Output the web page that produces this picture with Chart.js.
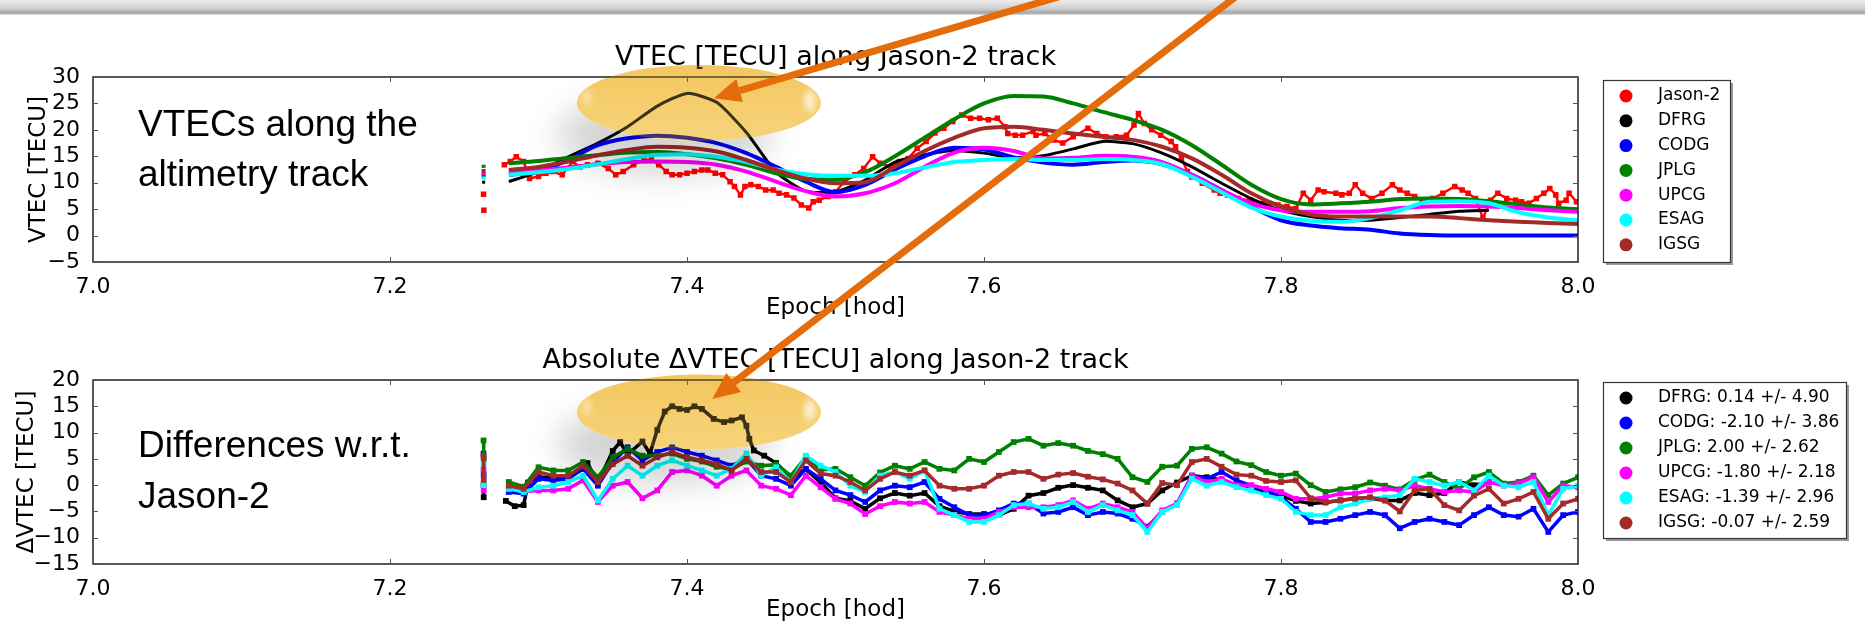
<!DOCTYPE html>
<html lang="en">
<head>
<meta charset="UTF-8">
<title>VTEC along Jason-2 track</title>
<style>
  html, body { margin: 0; padding: 0; background: #fff; }
  body { width: 1865px; height: 635px; position: relative; overflow: hidden; }
  canvas { position: absolute; left: 0; }
  #topChart { top: 0; }
  #bottomChart { top: 322px; }
  #glow { top: 0; pointer-events: none; z-index: 4; mix-blend-mode: multiply; }
  #overlay { top: 0; pointer-events: none; z-index: 5; }
  .note { position: absolute; left: 138px; z-index: 3; white-space: nowrap;
          font-family: 'Liberation Sans', Arial, sans-serif; font-size: 37px; color: #000; }
</style>
</head>
<body>
<canvas id="topChart" width="1865" height="322"></canvas>
<canvas id="bottomChart" width="1865" height="313"></canvas>
<div class="note" style="top:99px; line-height:50px">VTECs along the<br>altimetry track</div>
<div class="note" style="top:419px; line-height:51px">Differences w.r.t.<br>Jason-2</div>
<canvas id="glow" width="1865" height="635"></canvas>
<canvas id="overlay" width="1865" height="635"></canvas>

<script src="https://cdn.jsdelivr.net/npm/chart.js"></script>
<script>
// ---- data ----
const centres = ['DFRG', 'CODG', 'JPLG', 'UPCG', 'ESAG', 'IGSG'];
const colours = ['#000000', '#0000ff', '#008000', '#ff00ff', '#00ffff', '#a52a2a'];
const diffMean = [0.14, -2.10, 2.00, -1.80, -1.39, -0.07];
const diffStd = [4.90, 3.86, 2.62, 2.18, 2.96, 2.59];

const xTicks = [7.0, 7.2, 7.4, 7.6, 7.8, 8.0];
const topTicks = [-5, 0, 5, 10, 15, 20, 25, 30];
const bottomTicks = [-15, -10, -5, 0, 5, 10, 15, 20];

// Jason-2 altimeter VTEC (red dots)
const jasonEpochs = [7.263, 7.2631, 7.2632, 7.27, 7.277, 7.281, 7.285, 7.290, 7.294, 7.300, 7.305, 7.309, 7.316, 7.323,
  7.328, 7.333, 7.340, 7.347, 7.352, 7.357, 7.364, 7.371, 7.376, 7.381, 7.386, 7.390, 7.395, 7.400, 7.405, 7.410,
  7.414, 7.419, 7.424, 7.429, 7.432, 7.436, 7.439, 7.443, 7.448, 7.453, 7.458, 7.462, 7.467, 7.472, 7.477, 7.482,
  7.485, 7.489, 7.495, 7.500, 7.506, 7.513, 7.519, 7.525, 7.530, 7.537, 7.543, 7.549, 7.555, 7.561, 7.567, 7.573,
  7.579, 7.585, 7.591, 7.597, 7.603, 7.609, 7.614, 7.616, 7.621, 7.626, 7.633, 7.635, 7.641, 7.647, 7.653, 7.660,
  7.670, 7.676, 7.682, 7.689, 7.696, 7.701, 7.704, 7.708, 7.713, 7.719, 7.726, 7.729, 7.733, 7.737, 7.740, 7.747,
  7.755, 7.759, 7.764, 7.771, 7.779, 7.788, 7.798, 7.804, 7.810, 7.815, 7.820, 7.825, 7.829, 7.837, 7.841, 7.846,
  7.850, 7.855, 7.861, 7.868, 7.875, 7.880, 7.885, 7.890, 7.895, 7.902, 7.909, 7.917, 7.922, 7.926, 7.931, 7.936,
  7.941, 7.946, 7.952, 7.958, 7.962, 7.967, 7.972, 7.977, 7.981, 7.985, 7.987, 7.992, 7.994, 7.999];
const jasonTec = [7.8, null, 4.8, null, 13.4, 14.0, 14.9, 14.0, 10.8, 11.2, 11.8, 12.1, 11.5, 14.0,
  13.0, 13.4, 13.7, 12.7, 11.5, 12.1, 13.4, 14.3, 14.3, 13.4, 12.1, 11.5, 11.5, 11.8, 12.1, 12.4,
  12.4, 11.8, 11.5, 10.2, 9.3, 7.7, 9.3, 9.6, 9.3, 8.6, 8.6, 8.0, 7.7, 7.1, 5.8, 5.2,
  6.4, 6.7, 7.4, 8.3, 10.2, 11.5, 12.7, 14.9, 13.7, 13.0, 14.0, 14.6, 16.5, 17.8, 19.4, 20.3,
  21.6, 22.8, 22.2, 22.2, 21.9, 22.2, 20.6, 19.3, 19.0, 19.0, 19.7, 19.0, 19.3, 18.1, 17.5, 18.7,
  20.3, 19.3, 18.7, 18.7, 19.0, 20.9, 23.1, 21.2, 20.0, 19.0, 17.8, 16.8, 14.6, 12.1, 11.1, 9.9,
  8.6, 8.0, 7.7, 7.0, 6.7, 6.1, 5.8, 5.5, 5.1, 8.0, 6.7, 8.6, 8.3, 8.0, 7.7, 8.0,
  9.6, 8.0, 7.0, 8.0, 9.6, 8.6, 8.0, 7.4, 6.7, 7.0, 8.0, 9.3, 8.6, 8.0, 7.0, 3.3,
  6.7, 8.0, 7.0, 6.7, 6.4, 6.1, 7.0, 8.0, 8.9, 7.7, 6.1, 6.7, 8.0, 6.4];

// GIM VTEC interpolated to the track (smooth lines)
const modelEpochs = [7.263, 7.2631, 7.27, 7.28, 7.30, 7.32, 7.34, 7.36, 7.38, 7.40, 7.42, 7.44, 7.46, 7.48,
  7.50, 7.52, 7.54, 7.56, 7.58, 7.60, 7.62, 7.64, 7.66, 7.68, 7.70, 7.72, 7.74, 7.76, 7.78, 7.80,
  7.82, 7.84, 7.86, 7.88, 7.90, 7.92, 7.94, 7.96, 7.98, 8.00];
const dfrgTec = [10.4, 9.8, null, 10.2, 12.1, 14.9, 17.5, 20.6, 24.5, 26.9, 25.2, 19.5, 12.0, 8.4,
  8.3, 10.5, 13.9, 15.3, 16.1, 15.6, 14.7, 15.1, 16.4, 17.8, 17.4, 15.6, 13.0, 9.9, 7.0, 4.8,
  3.6, 2.9, 2.9, 3.4, 4.0, 4.6, 4.8, null, null, null];
const codgTec = [11.7, 11.0, null, 11.5, 12.1, 14.3, 17.1, 18.4, 18.9, 18.5, 17.5, 15.6, 13.0, 10.2,
  8.2, 9.6, 12.5, 15.0, 16.6, 16.3, 14.8, 13.8, 13.4, 13.9, 14.2, 13.5, 11.5, 8.6, 5.5, 2.9,
  1.9, 1.4, 1.1, 0.4, 0.1, 0.0, 0.0, 0.0, 0.0, 0.0];
const jplgTec = [13.4, 12.8, null, 13.7, 14.1, 14.7, 15.2, 15.7, 15.8, 15.4, 14.6, 13.4, 11.8, 10.7,
  10.6, 12.0, 15.0, 18.5, 22.0, 25.0, 26.4, 26.3, 25.0, 23.4, 21.9, 20.0, 17.1, 13.4, 9.6, 6.9,
  5.9, 6.1, 6.4, 6.9, 7.0, 6.9, 6.5, 5.9, 5.3, 5.0];
const upcgTec = [12.0, 11.4, null, 12.1, 12.4, 12.9, 13.5, 13.9, 14.0, 13.9, 13.4, 12.1, 10.2, 8.4,
  7.4, 8.0, 9.9, 13.0, 15.7, 16.6, 16.0, 14.6, 14.7, 15.1, 14.9, 13.9, 11.5, 8.6, 6.1, 4.8,
  4.5, 4.5, 4.6, 5.2, 5.5, 5.6, 5.5, 5.2, 4.8, 4.5];
const esagTec = [11.2, 10.6, null, 11.5, 12.0, 12.6, 13.5, 14.5, 15.3, 15.4, 14.9, 13.9, 12.5, 11.6,
  11.3, 11.3, 11.8, 12.9, 13.9, 14.3, 14.5, 14.3, 14.3, 14.5, 14.3, 13.5, 11.1, 8.2, 5.3, 3.6,
  2.8, 2.6, 3.3, 4.8, 6.4, 6.5, 6.1, 4.4, 3.4, 2.9];
const igsgTec = [12.6, 11.8, null, 12.4, 13.0, 14.0, 15.2, 16.2, 16.8, 16.6, 15.9, 14.3, 12.4, 10.8,
  9.9, 10.1, 13.0, 16.0, 18.5, 20.3, 20.6, 20.0, 19.3, 18.7, 18.1, 16.8, 14.6, 11.5, 8.0, 5.5,
  4.0, 3.6, 3.6, 3.6, 3.6, 3.3, 2.9, 2.6, 2.4, 2.2];

// differences model - Jason-2
const diffEpochs = [7.263, 7.2631, 7.27,
  7.28, 7.29, 7.30, 7.31, 7.32, 7.33, 7.34, 7.35, 7.36, 7.37, 7.38, 7.39, 7.40, 7.41, 7.42, 7.43,
  7.44, 7.45, 7.46, 7.47, 7.48, 7.49, 7.50, 7.51, 7.52, 7.53, 7.54, 7.55, 7.56, 7.57, 7.58, 7.59,
  7.60, 7.61, 7.62, 7.63, 7.64, 7.65, 7.66, 7.67, 7.68, 7.69, 7.70, 7.71, 7.72, 7.73, 7.74, 7.75,
  7.76, 7.77, 7.78, 7.79, 7.80, 7.81, 7.82, 7.83, 7.84, 7.85, 7.86, 7.87, 7.88, 7.89, 7.90, 7.91,
  7.92, 7.93, 7.94, 7.95, 7.96, 7.97, 7.98, 7.99, 8.00];
const dfrgDiffEpochs = [7.263, 7.2631, 7.27,
  7.278, 7.284, 7.290, 7.293, 7.300, 7.310, 7.320, 7.333, 7.340, 7.350, 7.355, 7.360, 7.370, 7.375,
  7.380, 7.385, 7.390, 7.395, 7.400, 7.405, 7.410, 7.418, 7.425, 7.430, 7.437, 7.440, 7.442, 7.445,
  7.452, 7.460, 7.470, 7.480, 7.490, 7.500, 7.51, 7.52, 7.53, 7.54, 7.55, 7.56, 7.57, 7.58, 7.59,
  7.60, 7.61, 7.62, 7.63, 7.64, 7.65, 7.66, 7.67, 7.68, 7.69, 7.70, 7.71, 7.72, 7.73, 7.74, 7.75,
  7.76, 7.77, 7.78, 7.79, 7.80, 7.81, 7.82, 7.83, 7.84, 7.85, 7.86, 7.87, 7.88, 7.89, 7.90, 7.91,
  7.92, 7.93, 7.94];
const dfrgDiff = [0.0, -2.3, null,
  -3.0, -4.0, -3.8, 0.5, 1.5, 1.5, 1.5, 4.2, 0.5, 6.5, 8.2, 5.8, 8.3, 6.0,
  10.5, 14.0, 15.0, 14.5, 14.3, 15.0, 14.5, 12.6, 12.0, 12.3, 12.9, 11.3, 8.8, 6.6,
  5.6, 4.2, 1.5, 3.0, 0.5, -2.5, -3.0, -4.5, -2.5, -1.5, -2.0, -1.5, -4.0, -5.0, -5.5,
  -5.5, -5.7, -4.5, -2.0, -1.5, -0.5, 0.0, -0.5, -1.0, -2.9, -4.2, -3.5, -1.0, 0.5, 1.8, 1.5,
  1.0, 0.0, -0.7, -1.5, -2.0, -3.0, -3.5, -3.3, -2.9, -2.5, -2.5, -2.9, -2.9, -1.5, -1.9, -1.5,
  0.6, 0.0, 0.5];
const codgDiff = [6.0, 2.0, null,
  -1.3, -1.6, 1.2, 0.9, 1.2, 3.1, -0.1, 4.4, 7.2, 4.7, 6.3, 7.2, 6.3, 5.6, 4.7, 3.7,
  5.0, 1.8, 1.2, -0.1, 3.1, 1.2, -1.0, -1.9, -3.2, -1.0, -0.1, -0.4, 0.6, -2.6, -4.2, -5.7,
  -5.7, -4.8, -3.5, -3.5, -5.4, -5.1, -4.2, -5.7, -5.1, -5.4, -6.4, -7.9, -5.1, -3.5, 1.8, 1.2,
  2.5, 0.9, -0.1, -1.0, -2.3, -4.5, -7.0, -7.0, -6.4, -5.7, -5.1, -5.7, -8.2, -7.0, -6.4, -7.0,
  -7.6, -5.7, -4.2, -5.7, -6.0, -4.5, -8.9, -5.7, -5.1];
const jplgDiff = [8.5, 5.0, null,
  0.6, -0.3, 3.4, 2.8, 2.8, 4.4, 1.5, 5.3, 6.9, 5.6, 5.6, 6.0, 5.0, 4.5, 3.5, 3.0,
  4.5, 3.7, 3.9, 1.8, 5.3, 2.9, 3.1, 1.5, -0.1, 2.4, 3.7, 3.1, 4.4, 3.1, 2.8, 5.0,
  4.4, 6.3, 8.2, 8.8, 7.5, 8.0, 7.5, 6.5, 5.9, 5.0, 1.5, 0.6, 3.5, 3.7, 6.9, 7.2,
  6.0, 4.5, 3.8, 2.5, 1.8, 2.2, 0.0, -1.3, -0.8, -0.4, 0.5, -0.1, -0.8, 1.0, 2.0, 0.6,
  -0.7, 1.5, 2.5, 0.3, 0.6, 1.8, -1.9, 0.3, 1.5];
const upcgDiff = [3.0, -1.0, null,
  -0.7, -1.2, -1.0, -1.0, -0.7, 0.9, -3.2, -0.1, 0.6, -2.5, -1.0, 2.5, 2.8, 1.8, -0.1, 1.8,
  2.8, -0.1, -0.7, -1.9, 1.8, -0.4, -2.6, -3.5, -5.5, -4.0, -3.2, -3.5, -3.2, -5.1, -5.7, -6.4,
  -6.4, -5.1, -4.2, -4.2, -4.2, -3.8, -2.9, -4.5, -3.5, -4.2, -5.1, -8.2, -4.8, -3.5, 1.8, 0.6,
  1.2, 0.0, 0.0, -0.7, -1.3, -2.6, -2.6, -2.3, -1.6, -1.6, -1.0, -0.7, -1.0, -0.1, -0.7, -1.3,
  -1.0, -1.3, 0.6, -0.1, 0.3, 1.5, -3.2, -0.1, -0.4];
const esagDiff = [4.0, 0.0, null,
  -0.7, -1.3, -0.4, -0.1, 0.6, 1.8, -2.9, 1.2, 3.7, 1.8, 3.7, 4.7, 3.7, 2.8, 1.8, 3.1,
  6.0, 1.8, 3.4, 0.6, 5.6, 3.7, 2.5, -0.1, -1.3, 1.8, 2.5, 1.2, 2.8, -4.5, -5.7, -7.0,
  -7.0, -5.7, -3.8, -3.5, -4.5, -4.2, -3.2, -5.1, -3.8, -4.8, -5.7, -8.9, -5.1, -3.8, 1.2, -0.1,
  0.6, -0.4, -1.0, -1.9, -2.6, -5.1, -5.7, -5.7, -4.2, -3.5, -2.6, -2.3, -1.9, 1.2, 0.6, -0.1,
  0.6, -1.0, 1.8, -0.1, -0.4, 0.6, -5.7, -0.7, -0.1];
const igsgDiff = [5.5, 1.0, null,
  -0.1, -0.7, 2.5, 1.8, 1.8, 3.7, 0.6, 4.0, 5.6, 3.7, 5.3, 6.3, 5.3, 4.7, 4.0, 2.8,
  5.0, 2.5, 2.5, 0.6, 4.7, 2.2, 1.8, 0.6, -1.0, 1.2, 2.5, 1.8, 2.8, -0.1, -0.7, -0.7,
  -0.1, 1.8, 2.5, 2.5, 1.2, 2.0, 2.3, 1.6, 1.1, 0.3, -1.0, -3.5, 0.4, 0.0, 4.4, 5.0,
  3.5, 2.0, 1.8, 0.8, 0.6, 0.9, -2.5, -3.2, -2.9, -2.6, -2.3, -2.9, -5.0, -1.0, -0.7, -3.8,
  -4.8, -2.0, -0.7, -3.5, -2.6, -1.3, -6.4, -3.5, -2.6];

// ---- helpers ----
Chart.defaults.font.family = "'DejaVu Sans', sans-serif";
Chart.defaults.color = '#000';

const pts = (xs, ys) => xs.map((x, i) => ({ x, y: ys[i] }));
const minus = v => (v < 0 ? '\u2212' + Math.abs(v) : String(v));

function modelSet(i, xs, ys) {
  const set = {
    label: centres[i], data: pts(xs, ys), showLine: true,
    borderColor: colours[i], backgroundColor: colours[i], borderWidth: 4,
    pointRadius: 0, cubicInterpolationMode: 'monotone', spanGaps: false, order: 6 - i
  };
  if (i === 0) {
    // DFRG is drawn with visible kinks in the original
    set.borderWidth = 3;
    set.cubicInterpolationMode = 'default';
    set.tension = 0.2;
  }
  return set;
}
function diffSet(i, xs, ys) {
  return {
    label: centres[i], data: pts(xs, ys), showLine: true,
    borderColor: colours[i], backgroundColor: colours[i], borderWidth: 3.5,
    pointRadius: 1.6, pointStyle: 'rect', tension: 0, spanGaps: false, order: 6 - i
  };
}

// axes box, inward ticks, title and a matplotlib-like legend
const framePlugin = {
  id: 'frame',
  afterDraw(chart, args, opts) {
    const { ctx, chartArea: a, scales: { x, y } } = chart;
    ctx.save();
    ctx.strokeStyle = '#222';
    ctx.lineWidth = 1.5;
    ctx.strokeRect(a.left, a.top, a.right - a.left, a.bottom - a.top);
    ctx.lineWidth = 1;
    ctx.strokeStyle = '#555';
    ctx.beginPath();
    x.ticks.forEach(t => {
      const px = Math.round(x.getPixelForValue(t.value)) + 0.5;
      ctx.moveTo(px, a.bottom); ctx.lineTo(px, a.bottom - 5);
      ctx.moveTo(px, a.top); ctx.lineTo(px, a.top + 5);
    });
    y.ticks.forEach(t => {
      const py = Math.round(y.getPixelForValue(t.value)) + 0.5;
      ctx.moveTo(a.left, py); ctx.lineTo(a.left + 5, py);
      ctx.moveTo(a.right, py); ctx.lineTo(a.right - 5, py);
    });
    ctx.stroke();

    ctx.fillStyle = '#000';
    ctx.font = "27px 'DejaVu Sans'";
    ctx.textAlign = 'center';
    ctx.textBaseline = 'alphabetic';
    ctx.fillText(opts.title, (a.left + a.right) / 2, opts.titleBaseline);

    const lx = a.right + 25, lw = opts.legendWidth, ly = opts.legendTop, lh = opts.legendHeight;
    ctx.fillStyle = 'rgba(110,110,110,0.7)';
    ctx.fillRect(lx + 3, ly + 3, lw, lh);
    ctx.fillStyle = '#fff';
    ctx.fillRect(lx, ly, lw, lh);
    ctx.strokeStyle = '#333';
    ctx.lineWidth = 1.2;
    ctx.strokeRect(lx + 0.5, ly + 0.5, lw, lh);
    ctx.font = "17px 'DejaVu Sans'";
    ctx.textAlign = 'left';
    ctx.textBaseline = 'middle';
    opts.items.forEach((it, k) => {
      const ry = opts.rowTop + k * opts.rowStep;
      ctx.fillStyle = it.color;
      ctx.beginPath();
      ctx.arc(lx + 23, ry, 6.5, 0, Math.PI * 2);
      ctx.fill();
      ctx.fillStyle = '#000';
      ctx.fillText(it.text, lx + 55, ry);
    });
    ctx.restore();
  }
};

function scalesFor(yMin, yMax, yTitle, yWidth) {
  return {
    x: {
      type: 'linear', min: 7, max: 8,
      afterBuildTicks: s => { s.ticks = xTicks.map(v => ({ value: v })); },
      ticks: { callback: v => v.toFixed(1), font: { size: 22 }, color: '#000', padding: 4, maxRotation: 0, autoSkip: false },
      grid: { display: false }, border: { display: false },
      title: { display: true, text: 'Epoch [hod]', font: { size: 23 }, color: '#000', padding: 0 },
      afterFit: s => { s.height = 60; }
    },
    y: {
      type: 'linear', min: yMin, max: yMax,
      afterBuildTicks: s => { s.ticks = (yMin === -5 ? topTicks : bottomTicks).map(v => ({ value: v })); },
      ticks: { callback: minus, font: { size: 22 }, color: '#000', padding: 5, autoSkip: false },
      grid: { display: false }, border: { display: false },
      title: { display: true, text: yTitle, font: { size: 23 }, color: '#000', padding: 0 },
      afterFit: s => { s.width = yWidth; }
    }
  };
}

// ---- top chart ----
const topSets = [
  {
    label: 'Jason-2', data: pts(jasonEpochs, jasonTec), showLine: true,
    borderColor: '#ff0000', backgroundColor: '#ff0000', borderWidth: 2.4,
    pointRadius: 2.2, pointStyle: 'rect', tension: 0, spanGaps: false, order: 7
  },
  modelSet(0, modelEpochs, dfrgTec),
  modelSet(1, modelEpochs, codgTec),
  modelSet(2, modelEpochs, jplgTec),
  modelSet(3, modelEpochs, upcgTec),
  modelSet(4, modelEpochs, esagTec),
  modelSet(5, modelEpochs, igsgTec)
];

const topChart = new Chart(document.getElementById('topChart'), {
  type: 'scatter',
  data: { datasets: topSets },
  options: {
    responsive: false, animation: false, devicePixelRatio: 1,
    layout: { padding: { top: 77, left: 25, right: 287, bottom: 0 } },
    scales: scalesFor(-5, 30, 'VTEC [TECU]', 68),
    plugins: {
      legend: { display: false }, tooltip: { enabled: false },
      frame: {
        title: 'VTEC [TECU] along Jason-2 track', titleBaseline: 65,
        legendTop: 80, legendHeight: 182, legendWidth: 127, rowTop: 96, rowStep: 24.8,
        items: [{ text: 'Jason-2', color: '#ff0000' }].concat(centres.map((c, i) => ({ text: c, color: colours[i] })))
      }
    }
  },
  plugins: [framePlugin]
});

// ---- bottom chart ----
const bottomSets = [
  diffSet(0, dfrgDiffEpochs, dfrgDiff),
  diffSet(1, diffEpochs, codgDiff),
  diffSet(2, diffEpochs, jplgDiff),
  diffSet(3, diffEpochs, upcgDiff),
  diffSet(4, diffEpochs, esagDiff),
  diffSet(5, diffEpochs, igsgDiff)
];

const bottomChart = new Chart(document.getElementById('bottomChart'), {
  type: 'scatter',
  data: { datasets: bottomSets },
  options: {
    responsive: false, animation: false, devicePixelRatio: 1,
    layout: { padding: { top: 58, left: 13, right: 287, bottom: 11 } },
    scales: scalesFor(-15, 20, '\u0394VTEC [TECU]', 80),
    plugins: {
      legend: { display: false }, tooltip: { enabled: false },
      frame: {
        title: 'Absolute \u0394VTEC [TECU] along Jason-2 track', titleBaseline: 46,
        legendTop: 60, legendHeight: 156, legendWidth: 243, rowTop: 76, rowStep: 25,
        items: centres.map((c, i) => ({
          text: c + ': ' + diffMean[i].toFixed(2) + ' +/- ' + diffStd[i].toFixed(2), color: colours[i]
        }))
      }
    }
  },
  plugins: [framePlugin]
});

// ---- slide decorations: header strip, highlight ellipses, arrows ----
// "glow" is blended with multiply over the charts, "overlay" is painted normally on top
const m = document.getElementById('glow').getContext('2d');
const o = document.getElementById('overlay').getContext('2d');

const hg = o.createLinearGradient(0, 0, 0, 15);
hg.addColorStop(0, '#ededed');
hg.addColorStop(0.6, '#cdcdcd');
hg.addColorStop(0.85, '#a4a4a4');
hg.addColorStop(1, '#dcdcdc');
o.fillStyle = hg;
o.fillRect(0, 0, 1865, 15);

// page position of a data point in one of the charts
function pagePoint(chart, offsetY, ex, v) {
  return { x: chart.scales.x.getPixelForValue(ex), y: chart.scales.y.getPixelForValue(v) + offsetY };
}

function goldEllipse(c, rx, ry) {
  const body = ctx => { ctx.beginPath(); ctx.ellipse(c.x, c.y, rx, ry, 0, 0, Math.PI * 2); };

  // soft grey shadow, down and to the left, kept outside the ellipse
  m.save();
  m.beginPath();
  m.rect(0, 0, 1865, 635);
  m.ellipse(c.x, c.y, rx, ry, 0, 0, Math.PI * 2, true);
  m.clip('evenodd');
  m.filter = 'blur(16px)';
  m.fillStyle = 'rgba(0,0,0,0.17)';
  m.beginPath();
  m.ellipse(c.x - 35, c.y + 32, rx * 0.88, ry * 1.05, 0, 0, Math.PI * 2);
  m.fill();
  m.restore();

  // tinted body (multiplied onto the chart beneath)
  const g = m.createLinearGradient(0, c.y - ry, 0, c.y + ry);
  g.addColorStop(0, 'rgb(246,202,104)');
  g.addColorStop(1, 'rgb(250,220,140)');
  m.fillStyle = g;
  body(m);
  m.fill();

  // light veil and glossy rims
  o.save();
  o.fillStyle = 'rgba(236,188,74,0.26)';
  body(o);
  o.fill();
  o.filter = 'blur(3px)';
  o.fillStyle = 'rgba(255,255,255,0.75)';
  o.beginPath();
  o.ellipse(c.x + rx - 11, c.y - 2, 5, 11, 0, 0, Math.PI * 2);
  o.fill();
  o.fillStyle = 'rgba(255,255,255,0.45)';
  o.beginPath();
  o.ellipse(c.x - rx + 10, c.y - 6, 4, 9, 0, 0, Math.PI * 2);
  o.fill();
  o.restore();
}

function arrow(x0, y0, tip) {
  const ang = Math.atan2(tip.y - y0, tip.x - x0);
  const head = 27, half = 12;
  const bx = tip.x - head * Math.cos(ang), by = tip.y - head * Math.sin(ang);
  o.save();
  o.strokeStyle = o.fillStyle = '#e46c0a';
  o.lineWidth = 7;
  o.beginPath();
  o.moveTo(x0, y0);
  o.lineTo(bx, by);
  o.stroke();
  o.beginPath();
  o.moveTo(tip.x, tip.y);
  o.lineTo(bx + half * Math.sin(ang), by - half * Math.cos(ang));
  o.lineTo(bx - half * Math.sin(ang), by + half * Math.cos(ang));
  o.closePath();
  o.fill();
  o.restore();
}

goldEllipse(pagePoint(topChart, 0, 7.408, 25.1), 122, 38);
goldEllipse(pagePoint(bottomChart, 322, 7.408, 13.9), 122, 37.5);
arrow(1065, -5, pagePoint(topChart, 0, 7.418, 26.0));
arrow(1238, -5, pagePoint(bottomChart, 322, 7.417, 16.4));
</script>
</body>
</html>
